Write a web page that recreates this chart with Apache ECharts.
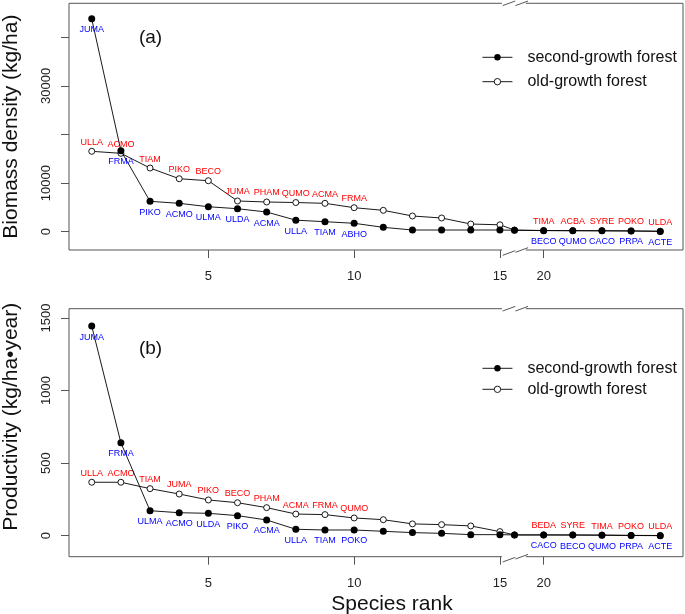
<!DOCTYPE html>
<html><head><meta charset="utf-8">
<script src="https://cdn.jsdelivr.net/npm/echarts@6/dist/echarts.min.js"></script>
<style>html,body{margin:0;padding:0;background:#fff}#c{width:685px;height:614px}</style>
</head><body><div id="c"></div>
<script>
// ---- data ----
const ranks = [1,2,3,4,5,6,7,8,9,10,11,12,13,14,15,19,20,21,22,23,24];
const tickRanks = [5,10,15,20];

const sgBiomass = [43800,16670,6250,5840,5140,4730,4050,2370,2060,1730,900,350,350,350,350,300,220,200,180,150,60];
const ogBiomass = [16540,16130,13100,10900,10490,6320,6110,6000,5840,4940,4400,3230,2820,1580,1420,330,250,220,200,160,100];
const sgProd = [1444,640,172,158,154,138,108,44,39,39,30,21,16,7,7,5,5,4,3,1,0];
const ogProd = [368,368,324,287,246,227,193,149,145,122,110,81,76,67,28,5,5,5,4,2,1];

const ogLabA = ['ULLA','ACMO','TIAM','PIKO','BECO','JUMA','PHAM','QUMO','ACMA','FRMA','','','','','','','TIMA','ACBA','SYRE','POKO','ULDA'];
const sgLabA = ['JUMA','FRMA','PIKO','ACMO','ULMA','ULDA','ACMA','ULLA','TIAM','ABHO','','','','','','','BECO','QUMO','CACO','PRPA','ACTE'];
const ogLabB = ['ULLA','ACMO','TIAM','JUMA','PIKO','BECO','PHAM','ACMA','FRMA','QUMO','','','','','','','BEDA','SYRE','TIMA','POKO','ULDA'];
const sgLabB = ['JUMA','FRMA','ULMA','ACMO','ULDA','PIKO','ACMA','ULLA','TIAM','POKO','','','','','','','CACO','BECO','QUMO','PRPA','ACTE'];

const yTicksA = [0,10000,20000,30000,40000];
const yLabelsA = [0,10000,30000];
const yTicksB = [0,500,1000,1500];

// ---- broken x axis (ranks 16-18 omitted) ----
const GAP_START = 15, GAP_END = 19, GAP_DISPLAY = 0.5;
function toAxis(r){ return r <= GAP_START ? r : r - (GAP_END - GAP_START) + GAP_DISPLAY; }
function fromAxis(v){ return v <= GAP_START + 1e-6 ? v : v + (GAP_END - GAP_START) - GAP_DISPLAY; }

const FONT = '"Liberation Sans", Arial, Helvetica, sans-serif';
const BOX = '#555';
const grids = [
  {left:69, top:3.3, width:614, height:246.7},
  {left:69, top:308.7, width:614, height:248}
];

function xAxisDef(i, withName){
  const o = {
    type:'value', gridIndex:i, min:0.22, max:21.28,
    axisLine:{show:false, onZero:false},
    splitLine:{show:false},
    axisTick:{show:true, length:8, inside:false, lineStyle:{color:BOX, width:1}, customValues: tickRanks.map(toAxis)},
    axisLabel:{customValues: tickRanks.map(toAxis), formatter: v => String(Math.round(fromAxis(v))), margin:20, fontSize:13, color:'#222', fontFamily:FONT}
  };
  if (withName){
    o.name = 'Species rank'; o.nameLocation = 'middle'; o.nameGap = 37;
    o.nameTextStyle = {fontSize:21, color:'#111', fontFamily:FONT, padding:[0,0,0,32]};
  }
  return o;
}
function yAxisDef(i, min, max, ticks, labels, name, pad){
  return {
    type:'value', gridIndex:i, min:min, max:max,
    axisLine:{show:false, onZero:false},
    splitLine:{show:false},
    axisTick:{show:true, length:8, lineStyle:{color:BOX, width:1}, customValues: ticks},
    axisLabel:{customValues: labels, formatter: v => String(v), rotate:90, margin:16, fontSize:13, color:'#222', fontFamily:FONT},
    name:name, nameLocation:'middle', nameRotate:90, nameGap:47,
    nameTextStyle:{fontSize:21, color:'#111', fontFamily:FONT, padding:pad}
  };
}
function seriesDef(name, gi, vals, labs, filled){
  return {
    type:'line', name:name, xAxisIndex:gi, yAxisIndex:gi,
    data: ranks.map((r,k) => [toAxis(r), vals[k]]),
    symbol:'circle', symbolSize: filled ? 7 : 6,
    itemStyle: filled ? {color:'#000'} : {color:'#fff', borderColor:'#000', borderWidth:0.9},
    lineStyle:{color:'#000', width:0.9},
    label:{show:true, position:'inside', offset:[0, filled ? 11 : -9],
      formatter: p => labs[p.dataIndex], color: filled ? '#0000ff' : '#ff0000', fontSize:9, fontFamily:FONT},
    emphasis:{disabled:true}, z: filled ? 3 : 2, animation:false
  };
}
const SG = 'second-growth forest', OG = 'old-growth forest';
function legendDef(top, gap){
  return {
    data:[SG, OG], orient:'vertical', left:482, top:top, itemGap:gap, padding:0,
    itemWidth:30, itemHeight:8, selectedMode:false,
    lineStyle:{width:0.9}, itemStyle:{borderWidth:0.9},
    textStyle:{fontSize:16, color:'#111', fontFamily:FONT, lineHeight:16, padding:[0,0,0,10]}
  };
}

const chart = echarts.init(document.getElementById('c'));
chart.setOption({
  animation:false,
  backgroundColor:'#fff',
  grid: grids.map(g => Object.assign({show:true, borderColor:BOX, borderWidth:1, backgroundColor:'transparent', containLabel:false, outerBoundsMode:'none'}, g)),
  xAxis:[xAxisDef(0,false), xAxisDef(1,true)],
  yAxis:[
    yAxisDef(0, -3765, 47000, yTicksA, yLabelsA, 'Biomass density (kg/ha)', [0,0,0,0]),
    yAxisDef(1, -145, 1564, yTicksB, yTicksB, 'Productivity (kg/ha•year)', [0,0,0,32])
  ],
  legend:[legendDef(49.3, 8.4), legendDef(360.3, 5)],
  series:[
    seriesDef(OG, 0, ogBiomass, ogLabA, false),
    seriesDef(SG, 0, sgBiomass, sgLabA, true),
    seriesDef(OG, 1, ogProd, ogLabB, false),
    seriesDef(SG, 1, sgProd, sgLabB, true)
  ]
});

// ---- axis-break marks & panel tags ----
const els = [];
grids.forEach((g, gi) => {
  const px = v => chart.convertToPixel({xAxisIndex: gi}, v);
  const c1 = px(15.31), c2 = px(15.75), xs = px(15.07), xe = px(15.89);
  const ys = [g.top, g.top + g.height];
  ys.forEach((y, k) => {
    els.push({type:'rect', z:100, shape:{x:xs, y:y-2, width:xe-xs, height:4}, style:{fill:'#fff'}});
    const d1 = k === 1 ? 3 : 0;
    [[c1, d1], [c2, 0]].forEach(([c, d]) => {
      els.push({type:'line', z:101, shape:{x1:c-6.3, y1:y+d+2.3, x2:c+6.3, y2:y+d-2.3}, style:{stroke:'#444', lineWidth:0.9}});
    });
  });
});
els.push({type:'text', z:101, x:150.5, y:37.5, style:{text:'(a)', fontSize:19, fontFamily:FONT, fill:'#111', align:'center', verticalAlign:'middle'}});
els.push({type:'text', z:101, x:150.5, y:348.5, style:{text:'(b)', fontSize:19, fontFamily:FONT, fill:'#111', align:'center', verticalAlign:'middle'}});
chart.setOption({graphic: els});
</script></body></html>
